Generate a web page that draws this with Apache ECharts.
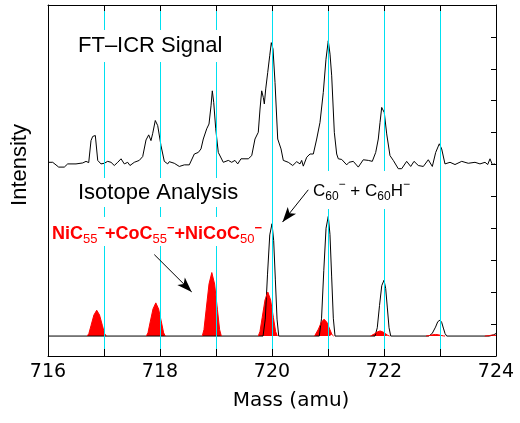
<!DOCTYPE html>
<html>
<head>
<meta charset="utf-8">
<script src="https://cdn.jsdelivr.net/npm/echarts@6/dist/echarts.min.js"></script>
<style>html,body{margin:0;padding:0;background:#fff;}#chart{width:520px;height:423px;}</style>
</head>
<body>
<div id="chart"></div>
<script>
// ---- data (mass in amu, intensity in arbitrary units) ----
const massTicks = [716, 718, 720, 722, 724];

// FT-ICR measured signal (upper trace, right axis units)
const signalMass = [716.000,716.084,716.191,716.291,716.352,716.500,716.620,716.679,716.727,716.768,716.798,716.845,716.888,716.946,
717.005,717.066,717.125,717.184,717.245,717.304,717.363,717.423,717.464,717.541,717.630,717.691,717.750,717.798,717.839,717.870,717.916,717.959,
718.018,718.077,718.138,718.166,718.255,718.345,718.434,718.523,718.613,718.684,718.732,718.773,718.834,718.875,718.911,718.934,718.959,718.995,
719.041,719.130,719.220,719.280,719.339,719.388,719.446,719.577,719.638,719.696,719.755,719.786,719.816,719.845,719.863,719.888,719.923,719.959,719.988,
720.018,720.054,720.102,720.161,720.202,720.291,720.370,720.441,720.500,720.530,720.559,720.620,720.679,720.738,720.798,720.857,720.916,720.964,
721.005,721.036,721.066,721.113,721.155,721.184,721.245,721.334,721.375,721.393,721.452,721.541,721.630,721.720,721.791,721.852,721.898,721.929,721.959,
722.005,722.048,722.107,722.166,722.255,722.316,722.405,722.477,722.536,722.613,722.702,722.791,722.863,722.923,722.988,
723.030,723.089,723.179,723.268,723.388,723.505,723.625,723.714,723.804,723.852,723.893,723.934,723.982];
const signalIntensity = [6.07,6.07,5.92,5.92,6.02,6.02,6.05,6.10,6.06,6.75,6.88,6.91,6.13,6.02,
6.04,6.10,6.07,5.97,6.07,6.18,6.02,6.07,5.97,6.07,6.13,6.25,6.77,6.93,6.75,6.98,7.38,7.22,
6.59,6.10,6.02,6.09,6.04,5.94,5.99,5.99,6.33,6.38,6.49,6.80,7.12,7.27,7.84,8.31,7.95,7.12,
6.38,6.07,6.13,6.07,6.13,6.02,6.18,6.18,6.28,6.80,7.01,7.74,8.31,8.10,7.90,8.37,8.88,9.41,9.82,
9.62,8.57,6.80,6.49,6.13,6.07,5.97,6.09,6.02,6.13,5.95,6.23,6.33,6.33,6.80,7.32,8.26,9.30,
9.88,9.46,8.78,7.01,6.33,6.18,6.16,5.99,6.07,6.02,6.10,5.92,6.15,6.13,6.10,6.38,6.80,7.32,7.79,
7.63,6.96,6.28,6.13,5.87,5.87,6.10,5.94,6.10,5.97,5.94,6.15,5.94,6.38,6.65,
6.49,6.02,6.07,6.00,6.10,6.04,6.07,6.02,6.07,6.00,6.18,6.00,6.02];

// Isotope analysis: C60- + C60H- (black outline, left axis units, baseline 0)
const c60Mass = [716.0,
719.84,719.88,719.92,719.96,720.0,720.03,720.06,720.09,720.12,
720.845,720.885,720.925,720.965,721.005,721.035,721.065,721.095,721.125,
721.84,721.88,721.92,721.96,722.0,722.03,722.06,722.09,722.12,
722.80,722.86,722.92,722.96,723.0,723.03,723.06,723.09,723.12,
723.88,723.96,724.0];
const c60Intensity = [0,
0,0.53,1.94,3.17,3.52,2.99,1.76,0.53,0,
0,0.56,2.06,3.38,3.75,3.19,1.88,0.56,0,
0,0.26,0.96,1.58,1.75,1.49,0.88,0.26,0,
0,0.08,0.28,0.45,0.50,0.43,0.25,0.08,0,
0,0.04,0.08];

// Isotope analysis: NiC55- + CoC55- + NiCoC50- (red filled, null = gap)
const metalMass = [
716.70,716.73,716.77,716.82,716.87,716.92,716.97,717.01,717.04, 717.40,
717.755,717.785,717.825,717.875,717.925,717.975,718.025,718.065,718.095, 718.40,
718.755,718.785,718.825,718.875,718.925,718.975,719.025,719.065,719.095, 719.40,
719.755,719.785,719.825,719.875,719.925,719.975,720.025,720.065,720.095, 720.40,
720.76,720.79,720.83,720.88,720.93,720.98,721.03,721.07,721.10, 721.40,
721.76,721.79,721.83,721.88,721.93,721.98,722.03,722.07,722.10, 722.40,
722.75,722.78,722.82,722.87,722.92,722.97,723.02,723.06,723.09, 723.40,
723.80,723.86,723.93,724.0];
const metalIntensity = [
0,0.08,0.34,0.66,0.81,0.66,0.34,0.08,0, null,
0,0.10,0.44,0.85,1.04,0.85,0.44,0.10,0, null,
0,0.20,0.84,1.63,1.99,1.63,0.84,0.20,0, null,
0,0.14,0.58,1.13,1.38,1.13,0.58,0.14,0, null,
0,0.05,0.22,0.43,0.53,0.43,0.22,0.05,0, null,
0,0.02,0.07,0.13,0.16,0.13,0.07,0.02,0, null,
0,0.005,0.02,0.04,0.05,0.04,0.02,0.005,0, null,
0,0.01,0.03,0.02];

// annotation arrows [fromMass, fromIntensity, toMass, toIntensity] (left axis units)
const arrowC60 = [720.648, 4.584, 720.188, 3.572];
const arrowMetal = [717.898, 2.553, 718.566, 1.384];

// ---- build ----
const pairs = (xs, ys) => xs.map((x, i) => [x, ys[i] == null ? '-' : ys[i]]);
const CYAN = '#00e0f0';
const hidden = {show: false};

const chart = echarts.init(document.getElementById('chart'), null, {renderer: 'canvas'});
chart.setOption({
  animation: false,
  backgroundColor: '#ffffff',
  grid: {left: 48, right: 24, top: 5, bottom: 67, containLabel: false},
  xAxis: [
    {type: 'value', min: 716, max: 724, interval: 1, position: 'bottom', z: 4,
     axisLine: {show: true, onZero: false, lineStyle: {color: '#000', width: 1}},
     axisTick: {show: true, inside: true, length: 7, lineStyle: {color: '#000', width: 1}},
     axisLabel: {show: true, margin: 7, color: '#000', fontFamily: 'DejaVu Sans', fontSize: 19,
       showMinLabel: true, showMaxLabel: true,
       formatter: v => massTicks.indexOf(Math.round(v)) >= 0 ? String(Math.round(v)) : ''},
     splitLine: hidden},
    {type: 'value', min: 716, max: 724, interval: 1, position: 'top', z: 4,
     axisLine: {show: true, onZero: false, lineStyle: {color: '#000', width: 1}},
     axisTick: {show: true, inside: true, length: 6, lineStyle: {color: '#000', width: 1}},
     axisLabel: hidden, splitLine: hidden},
    {type: 'value', min: 716, max: 724, interval: 1, position: 'bottom', z: 3,
     axisLine: {show: false, onZero: false}, axisTick: hidden, axisLabel: hidden,
     splitLine: {show: true, showMinLine: false, showMaxLine: false, lineStyle: {color: CYAN, width: 1, type: 'solid'}}}
  ],
  yAxis: [
    {type: 'value', min: 0, max: 11, interval: 1, position: 'right', z: 4,
     axisLine: {show: true, onZero: false, lineStyle: {color: '#000', width: 1}},
     axisTick: {show: true, inside: true, length: 5, lineStyle: {color: '#000', width: 1}},
     axisLabel: hidden, splitLine: hidden},
    {type: 'value', min: -0.625, max: 10.375, position: 'left', z: 4,
     axisLine: {show: true, onZero: false, lineStyle: {color: '#000', width: 1}},
     axisTick: hidden, axisLabel: hidden, splitLine: hidden}
  ],
  series: [
    {name: 'FT-ICR Signal', type: 'line', xAxisIndex: 0, yAxisIndex: 0, z: 2,
     data: pairs(signalMass, signalIntensity), showSymbol: false, symbol: 'none',
     lineStyle: {color: '#000', width: 1}, silent: true},
    {name: 'C60', type: 'line', xAxisIndex: 0, yAxisIndex: 1, z: 2,
     data: pairs(c60Mass, c60Intensity), showSymbol: false, symbol: 'none',
     lineStyle: {color: '#000', width: 1}, silent: true,
     markLine: {silent: true, animation: false, symbol: ['none', 'arrow'], symbolSize: [8, 15],
       label: {show: false}, lineStyle: {color: '#000', width: 1, type: 'solid'},
       emphasis: {disabled: true},
       data: [
         [{coord: [arrowC60[0], arrowC60[1]]}, {coord: [arrowC60[2], arrowC60[3]]}],
         [{coord: [arrowMetal[0], arrowMetal[1]]}, {coord: [arrowMetal[2], arrowMetal[3]]}]
       ]}},
    {name: 'Metal', type: 'line', xAxisIndex: 0, yAxisIndex: 1, z: 2,
     data: pairs(metalMass, metalIntensity), showSymbol: false, symbol: 'none', connectNulls: false,
     lineStyle: {color: '#ff0000', width: 1}, areaStyle: {color: '#ff0000', opacity: 1}, silent: true}
  ],
  graphic: [
    {type: 'text', z: 20, x: 20, y: 165, rotation: Math.PI / 2,
     style: {text: 'Intensity', font: '22px "Liberation Sans", Arial, sans-serif', fill: '#000', align: 'center', verticalAlign: 'middle'}},
    {type: 'text', z: 20, x: 291, y: 401,
     style: {text: 'Mass (amu)', font: '20px "DejaVu Sans", sans-serif', fill: '#000', align: 'center', verticalAlign: 'middle'}},
    {type: 'text', z: 20, x: 77, y: 30,
     style: {text: 'FT–ICR Signal', font: '22px "Liberation Sans", Arial, sans-serif', fill: '#000', align: 'left', verticalAlign: 'top',
       backgroundColor: '#fff', padding: [5, 1, 5, 1]}},
    {type: 'text', z: 20, x: 77, y: 178,
     style: {text: 'Isotope Analysis', font: '22px "Liberation Sans", Arial, sans-serif', fill: '#000', align: 'left', verticalAlign: 'top',
       backgroundColor: '#fff', padding: [4, 1, 3, 1]}},
    {type: 'text', z: 20, x: 312, y: 171,
     style: {text: '{m|C}{s|60}{p|−}{m| + C}{s|60}{m|H}{p|−}', align: 'left', verticalAlign: 'top',
       backgroundColor: '#fff', padding: [8, 1, 6, 1],
       rich: {
         m: {fontFamily: '"Liberation Sans", Arial, sans-serif', fontSize: 17, lineHeight: 24, fill: '#000', color: '#000', verticalAlign: 'middle'},
         s: {fontFamily: '"Liberation Sans", Arial, sans-serif', fontSize: 12, lineHeight: 14, fill: '#000', color: '#000', verticalAlign: 'bottom'},
         p: {fontFamily: '"Liberation Sans", Arial, sans-serif', fontSize: 12, lineHeight: 10, fill: '#000', color: '#000', verticalAlign: 'top'}
       }}},
    {type: 'text', z: 20, x: 51, y: 217,
     style: {text: '{m|NiC}{s|55}{p|−}{m|+CoC}{s|55}{p|−}{m|+NiCoC}{s|50}{p|−}', align: 'left', verticalAlign: 'top',
       backgroundColor: '#fff', padding: [5, 1, 0, 1],
       rich: {
         m: {fontFamily: '"Liberation Sans", Arial, sans-serif', fontWeight: 'bold', fontSize: 18, lineHeight: 24, fill: '#ff0000', color: '#ff0000', verticalAlign: 'middle'},
         s: {fontFamily: '"Liberation Sans", Arial, sans-serif', fontSize: 13, lineHeight: 14, fill: '#ff0000', color: '#ff0000', verticalAlign: 'bottom'},
         p: {fontFamily: '"Liberation Sans", Arial, sans-serif', fontWeight: 'bold', fontSize: 13, lineHeight: 10, fill: '#ff0000', color: '#ff0000', verticalAlign: 'top'}
       }}}
  ]
});
</script>
</body>
</html>
